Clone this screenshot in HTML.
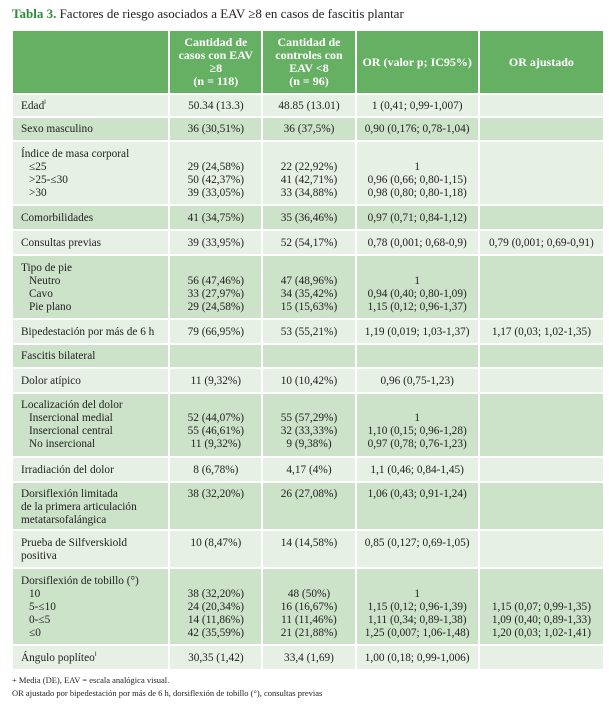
<!DOCTYPE html>
<html><head><meta charset="utf-8"><style>
body{margin:0;background:#fff;width:611px;height:709px;overflow:hidden;font-family:"Liberation Serif",serif;color:#222;}
.t{position:absolute;left:12px;top:6px;font-size:13px;}
.t b{color:#2e8b3a;}
table{position:absolute;left:11px;top:29px;border-collapse:separate;border-spacing:2px;table-layout:fixed;width:594px;font-size:11.3px;line-height:13px;}
td{padding:0 0 0 8px;vertical-align:top;}
td.v{text-align:center;padding:0;}
th{background:#66b064;color:#fff;font-weight:bold;font-size:12px;line-height:13px;vertical-align:middle;}
tr.L td{background:#e6f0e4;}
tr.D td{background:#cde3c9;}
.s{padding-left:8px;}
sup{font-size:6px;line-height:0;vertical-align:5px;}
.f{position:absolute;left:12px;top:674px;font-size:8.5px;line-height:13px;}
</style></head><body>
<div class="t"><b>Tabla 3.</b> Factores de riesgo asociados a EAV ≥8 en casos de fascitis plantar</div>
<table>
<colgroup><col style="width:155px"><col style="width:91px"><col style="width:91px"><col style="width:121px"><col style="width:123px"></colgroup>
<tr style="height:62px"><th></th><th>Cantidad de<br>casos con EAV<br>≥8<br>(n = 118)</th><th>Cantidad de<br>controles con<br>EAV &lt;8<br>(n = 96)</th><th>OR (valor p; IC95%)</th><th>OR ajustado</th></tr>
<tr class="L" style="height:21px"><td style="padding-top:5px">Edad<sup>ǁ</sup></td><td class="v" style="padding-top:5px">50.34 (13.3)</td><td class="v" style="padding-top:5px">48.85 (13.01)</td><td class="v" style="padding-top:5px">1 (0,41; 0,99-1,007)</td><td></td></tr>
<tr class="D" style="height:22px"><td style="padding-top:5px">Sexo masculino</td><td class="v" style="padding-top:5px">36 (30,51%)</td><td class="v" style="padding-top:5px">36 (37,5%)</td><td class="v" style="padding-top:5px">0,90 (0,176; 0,78-1,04)</td><td></td></tr>
<tr class="L" style="height:62px"><td style="padding-top:6px">Índice de masa corporal<br><span class="s">≤25</span><br><span class="s">&gt;25-≤30</span><br><span class="s">&gt;30</span></td><td class="v" style="padding-top:19px">29 (24,58%)<br>50 (42,37%)<br>39 (33,05%)</td><td class="v" style="padding-top:19px">22 (22,92%)<br>41 (42,71%)<br>33 (34,88%)</td><td class="v" style="padding-top:19px">1<br>0,96 (0,66; 0,80-1,15)<br>0,98 (0,80; 0,80-1,18)</td><td></td></tr>
<tr class="D" style="height:23px"><td style="padding-top:6px">Comorbilidades</td><td class="v" style="padding-top:6px">41 (34,75%)</td><td class="v" style="padding-top:6px">35 (36,46%)</td><td class="v" style="padding-top:6px">0,97 (0,71; 0,84-1,12)</td><td></td></tr>
<tr class="L" style="height:23px"><td style="padding-top:6px">Consultas previas</td><td class="v" style="padding-top:6px">39 (33,95%)</td><td class="v" style="padding-top:6px">52 (54,17%)</td><td class="v" style="padding-top:6px">0,78 (0,001; 0,68-0,9)</td><td class="v" style="padding-top:6px">0,79 (0,001; 0,69-0,91)</td></tr>
<tr class="D" style="height:62px"><td style="padding-top:6px">Tipo de pie<br><span class="s">Neutro</span><br><span class="s">Cavo</span><br><span class="s">Pie plano</span></td><td class="v" style="padding-top:19px">56 (47,46%)<br>33 (27,97%)<br>29 (24,58%)</td><td class="v" style="padding-top:19px">47 (48,96%)<br>34 (35,42%)<br>15 (15,63%)</td><td class="v" style="padding-top:19px">1<br>0,94 (0,40; 0,80-1,09)<br>1,15 (0,12; 0,96-1,37)</td><td></td></tr>
<tr class="L" style="height:23px"><td style="padding-top:6px">Bipedestación por más de 6 h</td><td class="v" style="padding-top:6px">79 (66,95%)</td><td class="v" style="padding-top:6px">53 (55,21%)</td><td class="v" style="padding-top:6px">1,19 (0,019; 1,03-1,37)</td><td class="v" style="padding-top:6px">1,17 (0,03; 1,02-1,35)</td></tr>
<tr class="D" style="height:22px"><td style="padding-top:5px">Fascitis bilateral</td><td></td><td></td><td></td><td></td></tr>
<tr class="L" style="height:23px"><td style="padding-top:6px">Dolor atípico</td><td class="v" style="padding-top:6px">11 (9,32%)</td><td class="v" style="padding-top:6px">10 (10,42%)</td><td class="v" style="padding-top:6px">0,96 (0,75-1,23)</td><td></td></tr>
<tr class="D" style="height:62px"><td style="padding-top:5px">Localización del dolor<br><span class="s">Insercional medial</span><br><span class="s">Insercional central</span><br><span class="s">No insercional</span></td><td class="v" style="padding-top:18px">52 (44,07%)<br>55 (46,61%)<br>11 (9,32%)</td><td class="v" style="padding-top:18px">55 (57,29%)<br>32 (33,33%)<br>9 (9,38%)</td><td class="v" style="padding-top:18px">1<br>1,10 (0,15; 0,96-1,28)<br>0,97 (0,78; 0,76-1,23)</td><td></td></tr>
<tr class="L" style="height:23px"><td style="padding-top:6px">Irradiación del dolor</td><td class="v" style="padding-top:6px">8 (6,78%)</td><td class="v" style="padding-top:6px">4,17 (4%)</td><td class="v" style="padding-top:6px">1,1 (0,46; 0,84-1,45)</td><td></td></tr>
<tr class="D" style="height:46px"><td style="padding-top:5px">Dorsiflexión limitada<br>de la primera articulación<br>metatarsofalángica</td><td class="v" style="padding-top:5px">38 (32,20%)</td><td class="v" style="padding-top:5px">26 (27,08%)</td><td class="v" style="padding-top:5px">1,06 (0,43; 0,91-1,24)</td><td></td></tr>
<tr class="L" style="height:36px"><td style="padding-top:6px">Prueba de Silfverskiold<br>positiva</td><td class="v" style="padding-top:6px">10 (8,47%)</td><td class="v" style="padding-top:6px">14 (14,58%)</td><td class="v" style="padding-top:6px">0,85 (0,127; 0,69-1,05)</td><td></td></tr>
<tr class="D" style="height:75px"><td style="padding-top:6px">Dorsiflexión de tobillo (°)<br><span class="s">10</span><br><span class="s">5-≤10</span><br><span class="s">0-≤5</span><br><span class="s">≤0</span></td><td class="v" style="padding-top:19px">38 (32,20%)<br>24 (20,34%)<br>14 (11,86%)<br>42 (35,59%)</td><td class="v" style="padding-top:19px">48 (50%)<br>16 (16,67%)<br>11 (11,46%)<br>21 (21,88%)</td><td class="v" style="padding-top:19px">1<br>1,15 (0,12; 0,96-1,39)<br>1,11 (0,34; 0,89-1,38)<br>1,25 (0,007; 1,06-1,48)</td><td class="v" style="padding-top:32px">1,15 (0,07; 0,99-1,35)<br>1,09 (0,40; 0,89-1,33)<br>1,20 (0,03; 1,02-1,41)</td></tr>
<tr class="L" style="height:23px"><td style="padding-top:6px">Ángulo poplíteo<sup>ǁ</sup></td><td class="v" style="padding-top:6px">30,35 (1,42)</td><td class="v" style="padding-top:6px">33,4 (1,69)</td><td class="v" style="padding-top:6px">1,00 (0,18; 0,99-1,006)</td><td></td></tr>
</table>
<div class="f">+ Media (DE), EAV = escala analógica visual.<br>OR ajustado por bipedestación por más de 6 h, dorsiflexión de tobillo (°), consultas previas</div>
</body></html>
